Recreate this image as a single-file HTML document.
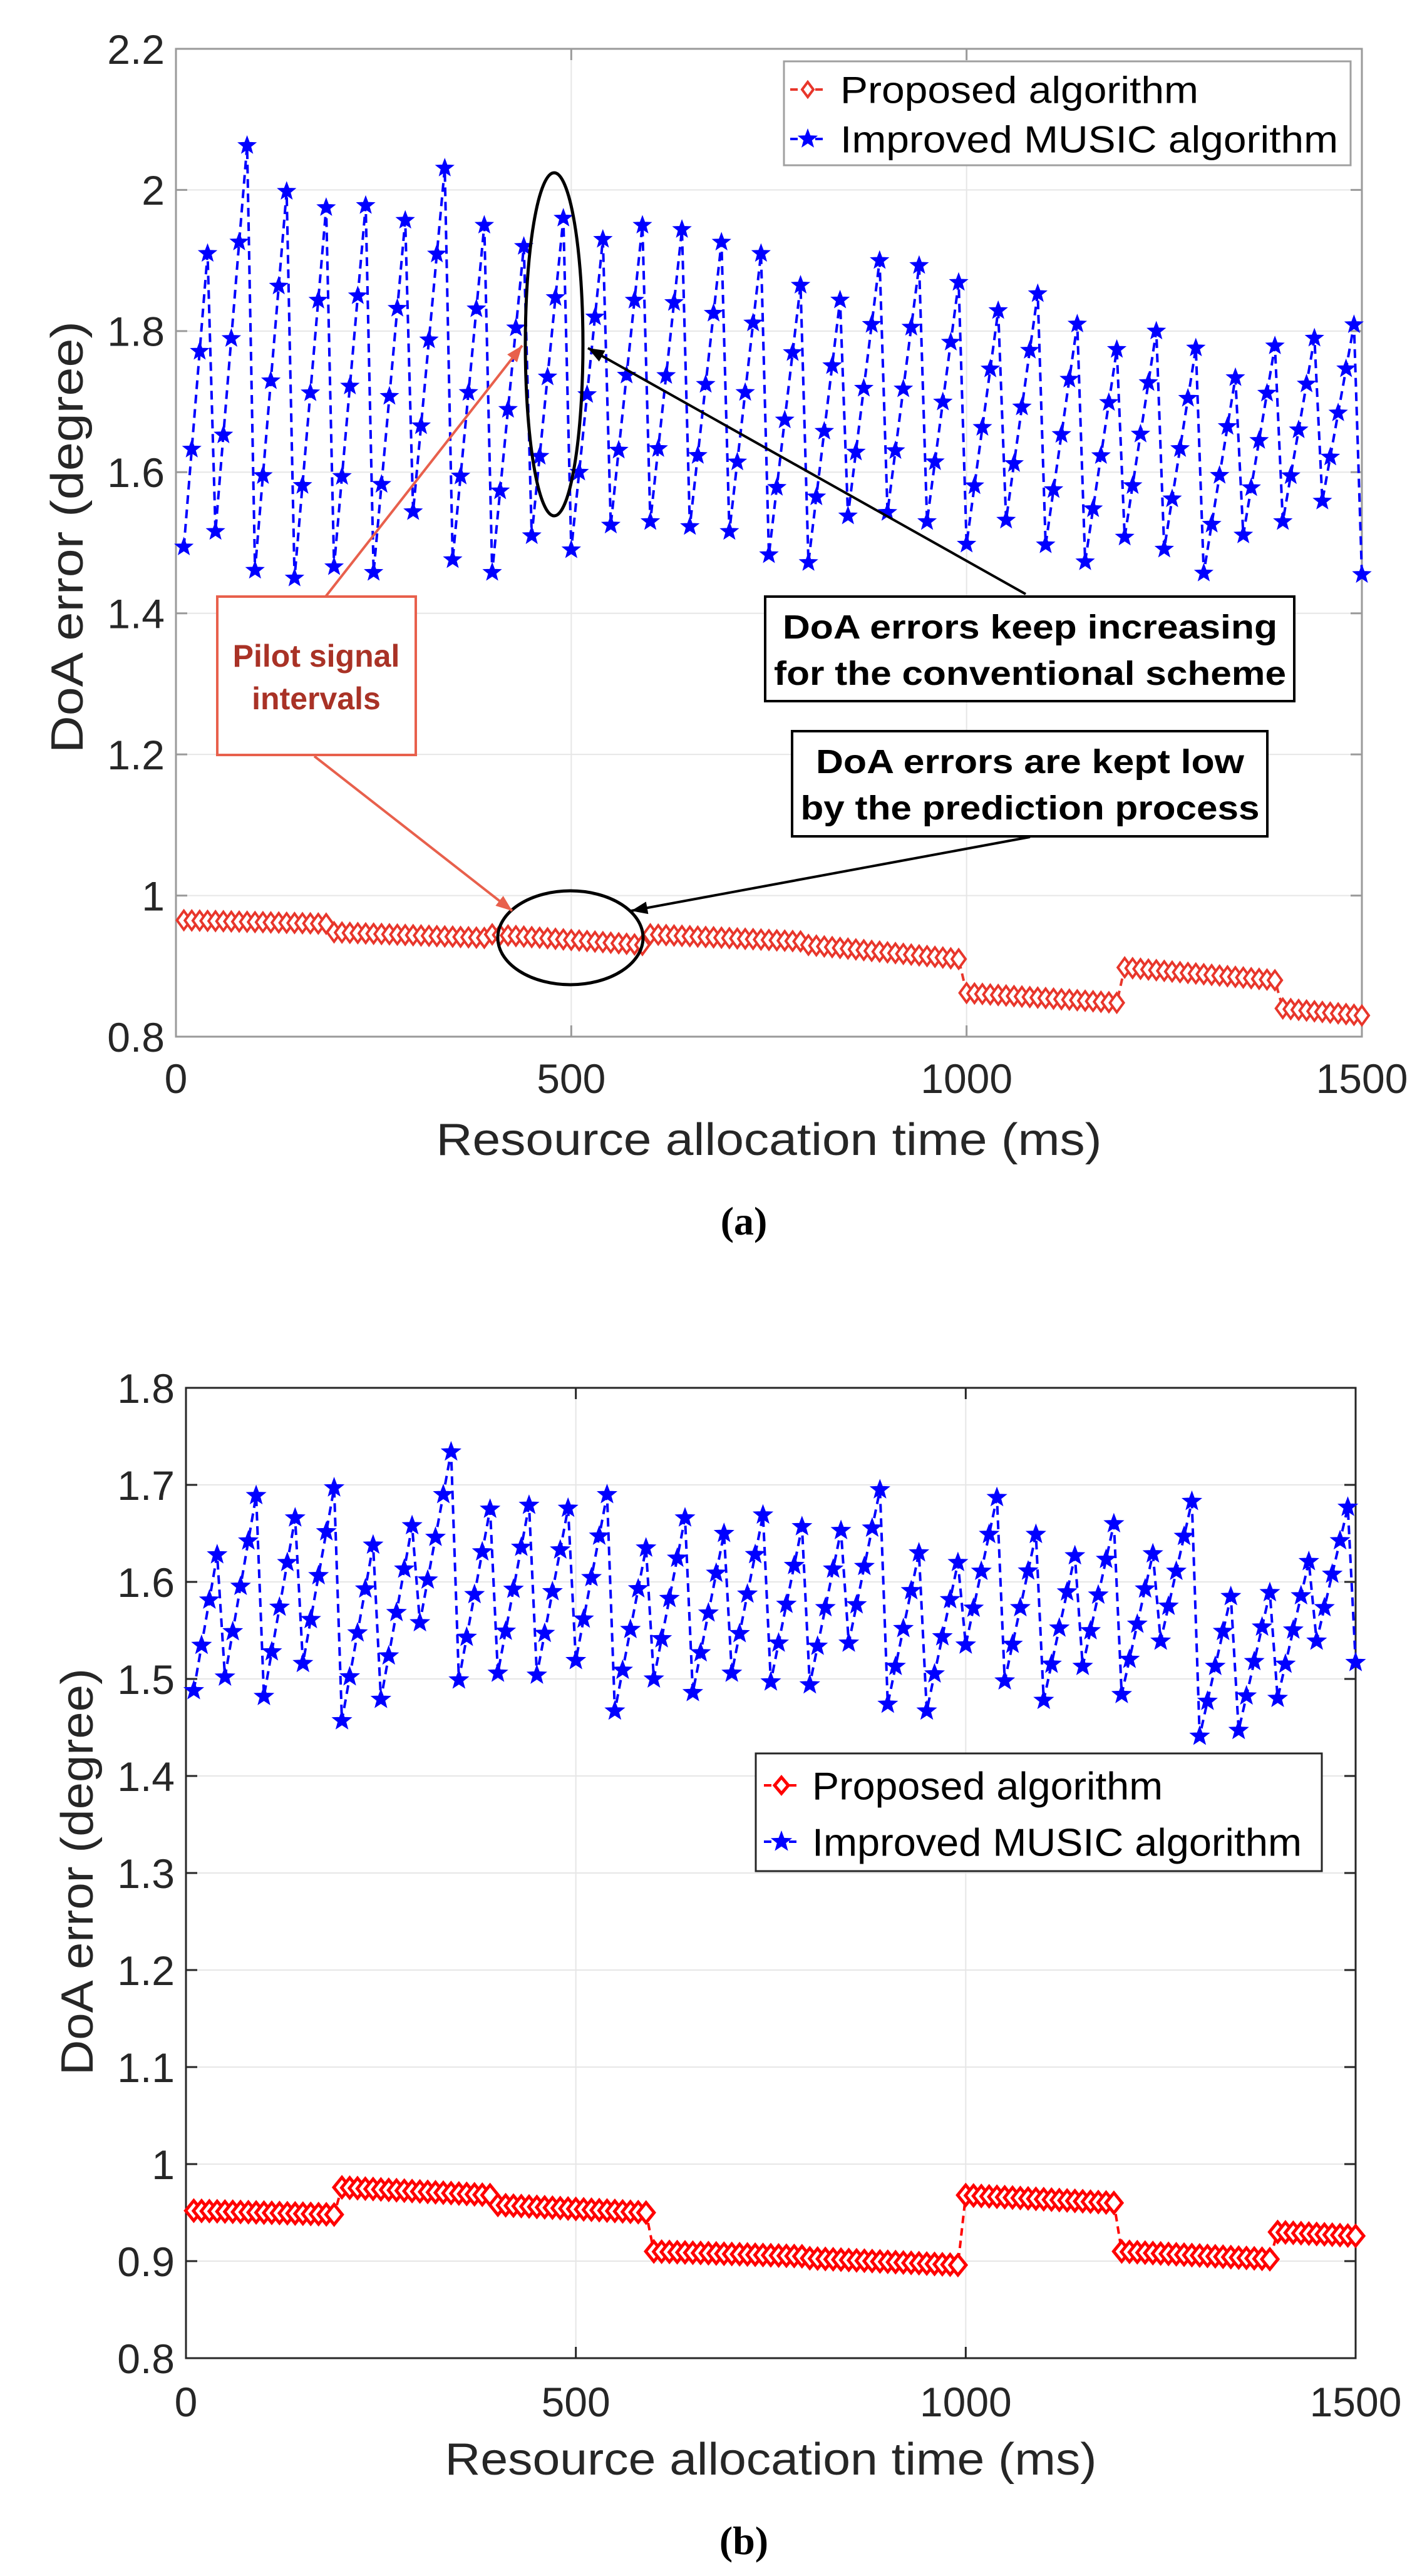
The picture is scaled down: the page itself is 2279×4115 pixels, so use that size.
<!DOCTYPE html>
<html><head><meta charset="utf-8"><style>
html,body{margin:0;padding:0;background:#fff;}
svg{display:block;}
</style></head><body>
<svg id="s" width="2279" height="4115" viewBox="0 0 2279 4115" xmlns="http://www.w3.org/2000/svg" font-family="'Liberation Sans',Arial,sans-serif">
<rect width="2279" height="4115" fill="#fff"/>
<g id="A"></g>
<g id="B"></g>
</svg>
<script>
const NS="http://www.w3.org/2000/svg";
function el(p,tag,attrs,txt){const e=document.createElementNS(NS,tag);for(const k in attrs)e.setAttribute(k,attrs[k]);if(txt!==undefined)e.textContent=txt;p.appendChild(e);return e;}
function star(cx,cy,R){let pts=[];for(let i=0;i<10;i++){const r=i%2?R*0.42:R;const a=-Math.PI/2+i*Math.PI/5;pts.push((cx+r*Math.cos(a)).toFixed(1)+","+(cy+r*Math.sin(a)).toFixed(1));}return pts.join(" ");}
function diamond(cx,cy,w,h){return `${cx-w},${cy} ${cx},${cy-h} ${cx+w},${cy} ${cx},${cy+h}`;}
function buildBlue(first,lows,highs,last){
  let d=[];
  for(let i=0;i<4;i++)d.push([10+10*i,first[0]+(first[1]-first[0])*i/3]);
  for(let k=0;k<lows.length;k++){const t0=50+50*k;for(let j=0;j<5;j++)d.push([t0+10*j,lows[k]+(highs[k]-lows[k])*j/4]);}
  d.push([1500,last]);return d;}
function buildRed(segs){let d=[];for(const s of segs){const [t0,t1,v0,v1]=s;for(let t=t0;t<=t1;t+=10)d.push([t,v0+(v1-v0)*(t-t0)/Math.max(1,t1-t0)]);}return d;}

function chart(g,o){
  const X=t=>o.x0+t*(o.x1-o.x0)/1500, Y=v=>o.y1-(v-o.vmin)*(o.y1-o.y0)/(o.vmax-o.vmin);
  for(const t of [500,1000])el(g,"line",{x1:X(t),x2:X(t),y1:o.y0,y2:o.y1,stroke:"#e6e6e6","stroke-width":2});
  for(const v of o.yt)el(g,"line",{x1:o.x0,x2:o.x1,y1:Y(v),y2:Y(v),stroke:"#e6e6e6","stroke-width":2});
  for(const v of o.yt){el(g,"line",{x1:o.x0,x2:o.x0+18,y1:Y(v),y2:Y(v),stroke:o.ax,"stroke-width":3});el(g,"line",{x1:o.x1,x2:o.x1-18,y1:Y(v),y2:Y(v),stroke:o.ax,"stroke-width":3});
    el(g,"text",{x:o.x0-18,y:Y(v)+o.fs*0.36,"font-size":o.fs,"text-anchor":"end",fill:"#262626"},o.ylab(v));}
  for(const t of [0,500,1000,1500]){el(g,"line",{x1:X(t),x2:X(t),y1:o.y1,y2:o.y1-18,stroke:o.ax,"stroke-width":3});el(g,"line",{x1:X(t),x2:X(t),y1:o.y0,y2:o.y0+18,stroke:o.ax,"stroke-width":3});
    el(g,"text",{x:X(t),y:o.xly,"font-size":o.fs,"text-anchor":"middle",fill:"#262626"},String(t));}
  el(g,"rect",{x:o.x0,y:o.y0,width:o.x1-o.x0,height:o.y1-o.y0,fill:"none",stroke:o.ax,"stroke-width":3});
  const rp=o.red.map(p=>[X(p[0]),Y(p[1])]);
  el(g,"polyline",{points:rp.map(p=>p.join(",")).join(" "),fill:"none",stroke:o.rc,"stroke-width":4,"stroke-dasharray":"12 8"});
  for(const p of rp)el(g,"polygon",{points:diamond(p[0],p[1],o.dw,o.dh),fill:"#fff",stroke:o.rc,"stroke-width":o.dsw});
  const bp=o.blue.map(p=>[X(p[0]),Y(p[1])]);
  el(g,"polyline",{points:bp.map(p=>p.join(",")).join(" "),fill:"none",stroke:"#0000ff","stroke-width":4,"stroke-dasharray":"14 9"});
  for(const p of bp)el(g,"polygon",{points:star(p[0],p[1],o.sr),fill:"#0000ff",stroke:"#0000ff","stroke-width":1});
  el(g,"text",{x:(o.x0+o.x1)/2,y:o.xlaby,"font-size":o.lfs,"text-anchor":"middle",fill:"#262626",textLength:o.xlen,lengthAdjust:"spacingAndGlyphs"},"Resource allocation time (ms)");
  el(g,"text",{x:0,y:0,"font-size":o.lfs,"text-anchor":"middle",fill:"#262626",transform:`translate(${o.ylx},${o.yly}) rotate(-90)`,textLength:o.ylen,lengthAdjust:"spacingAndGlyphs"},"DoA error (degree)");
  el(g,"text",{x:1188,y:o.capy,"font-size":64,"font-weight":"bold","text-anchor":"middle","font-family":"'Liberation Serif',serif",fill:"#000"},o.cap);
  const L=o.leg;
  el(g,"rect",{x:L.x,y:L.y,width:L.w,height:L.h,fill:"#fff",stroke:o.lgc,"stroke-width":3});
  el(g,"line",{x1:L.mx-28,x2:L.mx+28,y1:L.r1,y2:L.r1,stroke:o.rc,"stroke-width":4,"stroke-dasharray":"12 8"});
  el(g,"polygon",{points:diamond(L.mx,L.r1,o.dw-2,o.dh-3),fill:"#fff",stroke:o.rc,"stroke-width":o.dsw});
  el(g,"line",{x1:L.mx-28,x2:L.mx+28,y1:L.r2,y2:L.r2,stroke:"#0000ff","stroke-width":4,"stroke-dasharray":"12 8"});
  el(g,"polygon",{points:star(L.mx,L.r2,o.sr+2),fill:"#0000ff"});
  el(g,"text",{x:L.tx,y:L.r1+L.fs*0.36,"font-size":L.fs,fill:"#000",textLength:L.l1,lengthAdjust:"spacingAndGlyphs"},"Proposed algorithm");
  el(g,"text",{x:L.tx,y:L.r2+L.fs*0.36,"font-size":L.fs,fill:"#000",textLength:L.l2,lengthAdjust:"spacingAndGlyphs"},"Improved MUSIC algorithm");
  return {X,Y};
}

const aLows=[1.516,1.461,1.45,1.466,1.458,1.544,1.476,1.458,1.51,1.49,1.525,1.53,1.523,1.516,1.483,1.472,1.538,1.543,1.53,1.498,1.532,1.497,1.473,1.508,1.491,1.457,1.511,1.53,1.559];
const aHighs=[2.063,1.998,1.975,1.978,1.957,2.031,1.95,1.92,1.96,1.93,1.95,1.944,1.926,1.91,1.865,1.844,1.90,1.893,1.869,1.829,1.853,1.81,1.774,1.80,1.776,1.734,1.779,1.79,1.809];
const gA=document.getElementById("A");
chart(gA,{x0:281,x1:2175,y0:78,y1:1656,vmin:0.8,vmax:2.2,yt:[0.8,1,1.2,1.4,1.6,1.8,2,2.2],
  ylab:v=>(Math.abs(v-1)<1e-9?"1":Math.abs(v-2)<1e-9?"2":v.toFixed(1)),ax:"#9a9a9a",fs:66,xly:1746,
  red:buildRed([[10,190,0.965,0.960],[200,390,0.948,0.940],[400,590,0.945,0.930],[600,790,0.945,0.935],[800,990,0.930,0.910],[1000,1190,0.862,0.848],[1200,1390,0.898,0.880],[1400,1500,0.840,0.830]]),
  blue:buildBlue([1.494,1.91],aLows,aHighs,1.455),rc:"#e8362b",dw:11,dh:15,dsw:4,sr:15,
  lfs:72,xlaby:1845,xlen:1063,ylx:132,yly:858,ylen:690,cap:"(a)",capy:1972,lgc:"#a0a0a0",
  leg:{x:1252,y:98,w:905,h:166,mx:1290,r1:143,r2:222,tx:1342,fs:60,l1:572,l2:795}});
el(gA,"ellipse",{cx:885,cy:550,rx:46,ry:274,fill:"none",stroke:"#000","stroke-width":5});
el(gA,"ellipse",{cx:911,cy:1498,rx:116,ry:75,fill:"none",stroke:"#000","stroke-width":5});
function arrow(g,x1,y1,x2,y2,c,w){el(g,"line",{x1,y1,x2,y2,stroke:c,"stroke-width":w});const a=Math.atan2(y2-y1,x2-x1),L=26,W=10;
  const bx=x2-L*Math.cos(a),by=y2-L*Math.sin(a);el(g,"polygon",{points:`${x2},${y2} ${bx-W*Math.sin(a)},${by+W*Math.cos(a)} ${bx+W*Math.sin(a)},${by-W*Math.cos(a)}`,fill:c});}
arrow(gA,520,953,834,552,"#e8604c",4);
arrow(gA,502,1208,818,1455,"#e8604c",4);
arrow(gA,1638,949,939,556,"#000",4);
arrow(gA,1645,1337,1008,1455,"#000",4);
el(gA,"rect",{x:347,y:953,width:317,height:253,fill:"#fff",stroke:"#e8604c","stroke-width":4});
el(gA,"text",{x:505,y:1065,"font-size":50,"font-weight":"bold","text-anchor":"middle",fill:"#a93226"},"Pilot signal");
el(gA,"text",{x:505,y:1133,"font-size":50,"font-weight":"bold","text-anchor":"middle",fill:"#a93226"},"intervals");
el(gA,"rect",{x:1222,y:953,width:845,height:167,fill:"#fff",stroke:"#000","stroke-width":4});
el(gA,"text",{x:1645,y:1020,"font-size":54,"font-weight":"bold","text-anchor":"middle",fill:"#000",textLength:790,lengthAdjust:"spacingAndGlyphs"},"DoA errors keep increasing");
el(gA,"text",{x:1645,y:1094,"font-size":54,"font-weight":"bold","text-anchor":"middle",fill:"#000",textLength:818,lengthAdjust:"spacingAndGlyphs"},"for the conventional scheme");
el(gA,"rect",{x:1265,y:1168,width:759,height:168,fill:"#fff",stroke:"#000","stroke-width":4});
el(gA,"text",{x:1645,y:1235,"font-size":54,"font-weight":"bold","text-anchor":"middle",fill:"#000",textLength:684,lengthAdjust:"spacingAndGlyphs"},"DoA errors are kept low");
el(gA,"text",{x:1645,y:1309,"font-size":54,"font-weight":"bold","text-anchor":"middle",fill:"#000",textLength:733,lengthAdjust:"spacingAndGlyphs"},"by the prediction process");

const bLows=[1.502,1.482,1.516,1.457,1.479,1.558,1.499,1.506,1.504,1.519,1.467,1.500,1.486,1.506,1.497,1.494,1.537,1.474,1.467,1.535,1.498,1.478,1.513,1.484,1.539,1.441,1.447,1.480,1.539];
const bHighs=[1.689,1.666,1.697,1.638,1.658,1.734,1.675,1.679,1.676,1.690,1.635,1.666,1.650,1.669,1.657,1.653,1.695,1.630,1.620,1.687,1.649,1.627,1.660,1.629,1.683,1.585,1.589,1.621,1.677];
const gB=document.getElementById("B");
chart(gB,{x0:297,x1:2165,y0:2217,y1:3767,vmin:0.8,vmax:1.8,yt:[0.8,0.9,1,1.1,1.2,1.3,1.4,1.5,1.6,1.7,1.8],
  ylab:v=>(Math.abs(v-1)<1e-9?"1":v.toFixed(1)),ax:"#262626",fs:66,xly:3860,
  red:buildRed([[10,190,0.952,0.948],[200,390,0.976,0.968],[400,590,0.958,0.950],[600,790,0.910,0.905],[800,990,0.903,0.896],[1000,1190,0.968,0.960],[1200,1390,0.910,0.902],[1400,1500,0.930,0.926]]),
  blue:buildBlue([1.488,1.628],bLows,bHighs,1.517),rc:"#ff0000",dw:13,dh:16,dsw:5,sr:16,
  lfs:72,xlaby:3953,xlen:1041,ylx:148,yly:2990,ylen:650,cap:"(b)",capy:4080,lgc:"#262626",
  leg:{x:1207,y:2801,w:904,h:188,mx:1248,r1:2852,r2:2942,tx:1297,fs:62,l1:560,l2:782}});
</script>
</body></html>
